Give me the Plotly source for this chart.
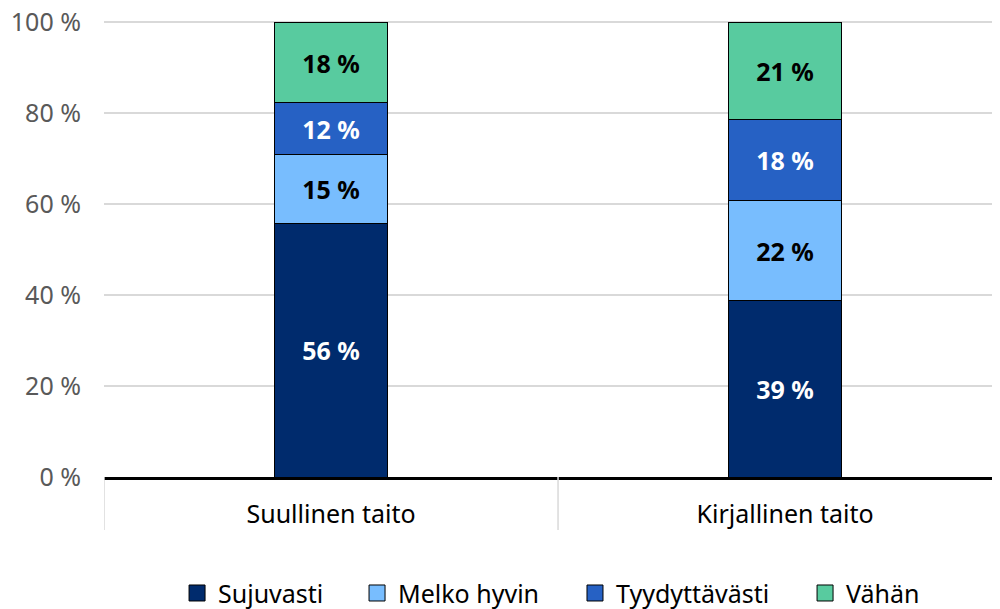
import plotly.graph_objects as go

categories = ["Suullinen taito", "Kirjallinen taito"]
series_names = ["Sujuvasti", "Melko hyvin", "Tyydyttävästi", "Vähän"]
# segment heights (100 % stacked)
sujuvasti = [55.8, 38.8]
melko_hyvin = [15.2, 22.0]
tyydyttavasti = [11.3, 17.9]
vahan = [17.7, 21.3]
# labels printed on the segments
sujuvasti_lbl = ["56 %", "39 %"]
melko_hyvin_lbl = ["15 %", "22 %"]
tyydyttavasti_lbl = ["12 %", "18 %"]
vahan_lbl = ["18 %", "21 %"]
y_ticks = [0, 20, 40, 60, 80, 100]
y_tick_text = [f"{v} %" for v in y_ticks]

colors = ["#002B6D", "#78BDFE", "#2661C4", "#58CB9F"]
text_colors = ["white", "black", "white", "black"]
FONT = "Noto Sans"

# page has an 8px body margin, so the figure is laid out a bit up/left
legend_x = [0.0797, 0.2788, 0.5199, 0.7744]
legend_ids = ["legend", "legend2", "legend3", "legend4"]

fig = go.Figure()
for name, vals, lbls, col, tcol, lg in zip(
    series_names,
    [sujuvasti, melko_hyvin, tyydyttavasti, vahan],
    [sujuvasti_lbl, melko_hyvin_lbl, tyydyttavasti_lbl, vahan_lbl],
    colors,
    text_colors,
    legend_ids,
):
    fig.add_trace(
        go.Bar(
            x=categories,
            y=vals,
            name=name,
            text=lbls,
            textposition="inside",
            insidetextanchor="middle",
            textangle=0,
            textfont=dict(family=FONT, size=25, color=tcol, weight="bold"),
            marker=dict(color=col, line=dict(color="black", width=1)),
            width=0.25,
            hoverinfo="skip",
            showlegend=False,
        )
    )
    # legend-only entry with a bigger square swatch
    fig.add_trace(
        go.Scatter(
            x=[None], y=[None], mode="markers", name=name, legend=lg,
            marker=dict(symbol="square", size=22, color=col,
                        line=dict(color="black", width=1)),
        )
    )

# category divider lines below the axis (Excel style)
for xb in [-0.5, 0.5]:
    fig.add_shape(
        type="line", xref="x", yref="paper",
        x0=xb, x1=xb, y0=0, y1=-0.116,
        line=dict(color="#d9d9d9", width=1.5),
    )

legend_style = dict(
    orientation="h",
    xref="paper", xanchor="left",
    yref="container", y=0.039, yanchor="middle",
    font=dict(family=FONT, size=25, color="black"),
    itemwidth=32,
    bgcolor="rgba(0,0,0,0)",
)

fig.update_layout(
    barmode="stack",
    width=1000,
    height=609,
    margin=dict(l=96, r=0, t=13, b=140),
    plot_bgcolor="white",
    paper_bgcolor="white",
    font=dict(family=FONT, color="black"),
    uniformtext=dict(minsize=25, mode="show"),
    xaxis=dict(
        range=[-0.5, 1.491],
        automargin=False,
        showline=True,
        linecolor="black",
        linewidth=3,
        ticks="",
        tickfont=dict(family=FONT, size=25, color="black"),
        ticklabelstandoff=13,
        showgrid=False,
        zeroline=False,
    ),
    yaxis=dict(
        # a hair above 100 so the top grid line is not clipped away
        range=[0, 100.3],
        automargin=False,
        tickvals=y_ticks,
        ticktext=y_tick_text,
        tickfont=dict(family=FONT, size=25, color="#595959"),
        ticklabeloverflow="allow",
        showgrid=True,
        gridcolor="#d9d9d9",
        gridwidth=1.5,
        zeroline=False,
        showline=False,
        ticklabelstandoff=22,
    ),
)
for lg, lx in zip(legend_ids, legend_x):
    fig.update_layout({lg: dict(legend_style, x=lx)})

fig.write_html("out.html")
